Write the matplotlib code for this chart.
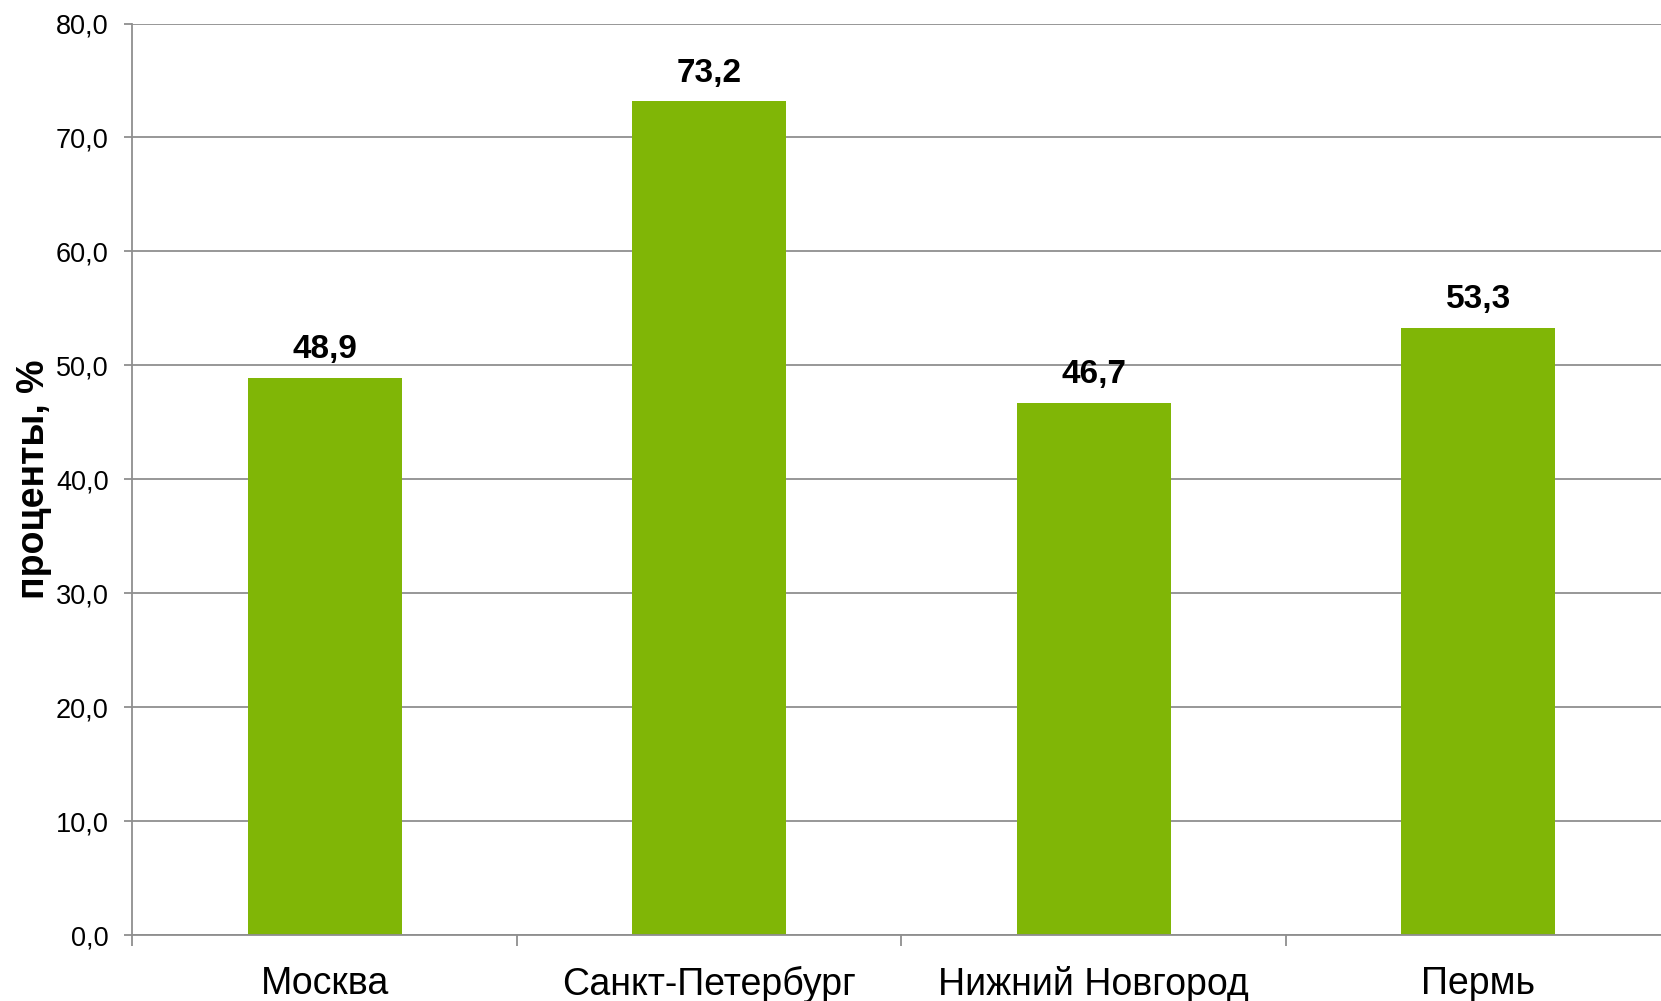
import matplotlib
matplotlib.use('Agg')
import matplotlib.pyplot as plt
from matplotlib.ticker import FixedLocator, FuncFormatter

plt.rcParams['font.family'] = ['Liberation Sans', 'DejaVu Sans']

cities = ['Москва', 'Санкт-Петербург', 'Нижний Новгород', 'Пермь']
values = [48.9, 73.2, 46.7, 53.3]
y_ticks = [0, 10, 20, 30, 40, 50, 60, 70, 80]

bar_color = '#80b606'
grid_color = '#8f8f8f'

fig = plt.figure(figsize=(16.61, 10.01), dpi=100)
# plot area runs a little past the right edge of the image, like the original
ax = fig.add_axes([0.0797, 0.0659, 0.926, 0.9106])

x = range(len(cities))
bars = ax.bar(x, values, width=0.4, color=bar_color, zorder=3)

for b, v in zip(bars, values):
    ax.annotate(f'{v:.1f}'.replace('.', ','), (b.get_x() + b.get_width() / 2, v),
                xytext=(0, 9), textcoords='offset points', ha='center', va='bottom',
                fontsize=24, fontweight='bold', color='black')

ax.set_xlim(-0.5, len(cities) - 0.5)
ax.set_ylim(0, 80)
ax.set_yticks(y_ticks)
ax.yaxis.set_major_formatter(FuncFormatter(lambda v, p: f'{v:.1f}'.replace('.', ',')))
ax.yaxis.grid(True, color=grid_color, linewidth=1.3, zorder=0)

ax.set_xticks(list(x))
ax.set_xticklabels(cities, fontsize=27)
ax.xaxis.set_minor_locator(FixedLocator([i - 0.5 for i in range(len(cities) + 1)]))
ax.tick_params(axis='x', which='major', length=0, pad=22)
ax.tick_params(axis='x', which='minor', length=8, width=1.3, color=grid_color, direction='out')
ax.tick_params(axis='y', length=6, width=1.3, color=grid_color, labelsize=19.5, pad=11)

for s in ['top', 'right']:
    ax.spines[s].set_visible(False)
for s in ['left', 'bottom']:
    ax.spines[s].set_color(grid_color)
    ax.spines[s].set_linewidth(1.3)
    ax.spines[s].set_zorder(4)

ax.set_ylabel('проценты, %', fontsize=27, fontweight='bold')
ax.yaxis.set_label_coords(-0.052, 0.5)

fig.savefig('out.png', dpi=100, facecolor='white')
